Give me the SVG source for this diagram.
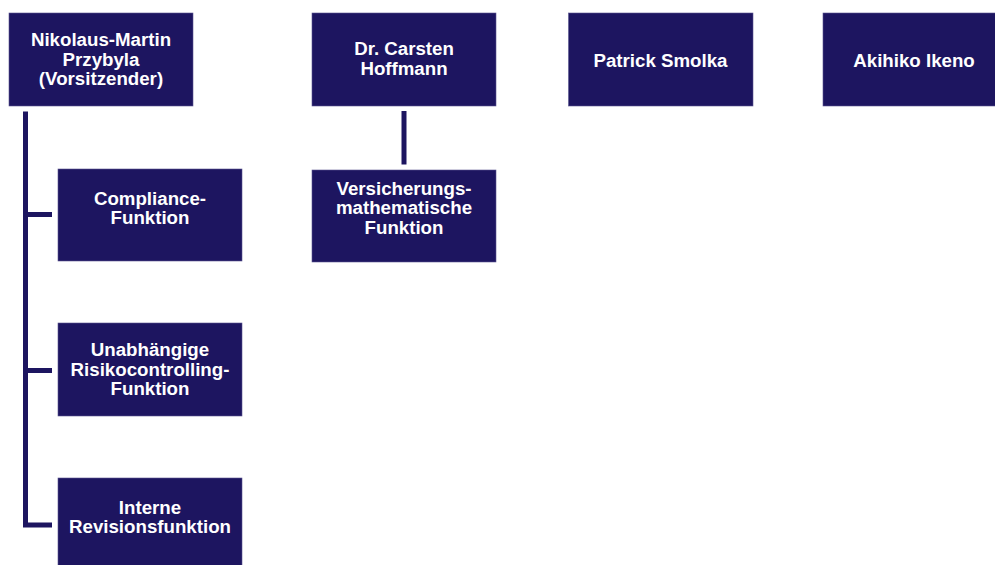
<svg xmlns="http://www.w3.org/2000/svg" width="995" height="565" viewBox="0 0 995 565">
<style>
.box{fill:#1d1560;stroke:#5a5590;stroke-width:0.6}
.t{fill:#ffffff;font-family:"Liberation Sans",Arial,sans-serif;font-weight:bold;font-size:18.7px;text-anchor:middle}
.ln{fill:none;stroke:#1d1560;stroke-width:5;stroke-linecap:butt;stroke-linejoin:miter}
</style>
<rect width="995" height="565" fill="#ffffff"/>
<g id="connectors">
<polyline class="ln" points="25.5,111.5 25.5,525 52,525"/>
<line class="ln" x1="25.5" y1="214.5" x2="52" y2="214.5"/>
<line class="ln" x1="25.5" y1="370.5" x2="52" y2="370.5"/>
<line class="ln" x1="404" y1="111" x2="404" y2="164.5"/>
</g>
<g id="n-przybyla">
<rect class="box" x="9" y="13" width="184" height="93"/>
<text class="t" x="101" y="46">Nikolaus-Martin</text>
<text class="t" x="101" y="65.5">Przybyla</text>
<text class="t" x="101" y="85">(Vorsitzender)</text>
</g>
<g id="n-hoffmann">
<rect class="box" x="312" y="13" width="184" height="93"/>
<text class="t" x="404" y="55">Dr. Carsten</text>
<text class="t" x="404" y="75">Hoffmann</text>
</g>
<g id="n-smolka">
<rect class="box" x="568.5" y="13" width="184.5" height="93"/>
<text class="t" x="660.5" y="66.5">Patrick Smolka</text>
</g>
<g id="n-ikeno">
<rect class="box" x="823" y="13" width="184" height="93"/>
<text class="t" x="914" y="66.5">Akihiko Ikeno</text>
</g>
<g id="n-compliance">
<rect class="box" x="58" y="169" width="184" height="92"/>
<text class="t" x="150" y="204.5">Compliance-</text>
<text class="t" x="150" y="224">Funktion</text>
</g>
<g id="n-risiko">
<rect class="box" x="58" y="323" width="184" height="93"/>
<text class="t" x="150" y="356">Unabhängige</text>
<text class="t" x="150" y="375.5">Risikocontrolling-</text>
<text class="t" x="150" y="395">Funktion</text>
</g>
<g id="n-revision">
<rect class="box" x="58" y="478" width="184" height="93"/>
<text class="t" x="150" y="513.5">Interne</text>
<text class="t" x="150" y="533.3">Revisionsfunktion</text>
</g>
<g id="n-versicherung">
<rect class="box" x="312" y="170" width="184" height="92"/>
<text class="t" x="404" y="194.5">Versicherungs-</text>
<text class="t" x="404" y="214">mathematische</text>
<text class="t" x="404" y="233.5">Funktion</text>
</g>
</svg>
